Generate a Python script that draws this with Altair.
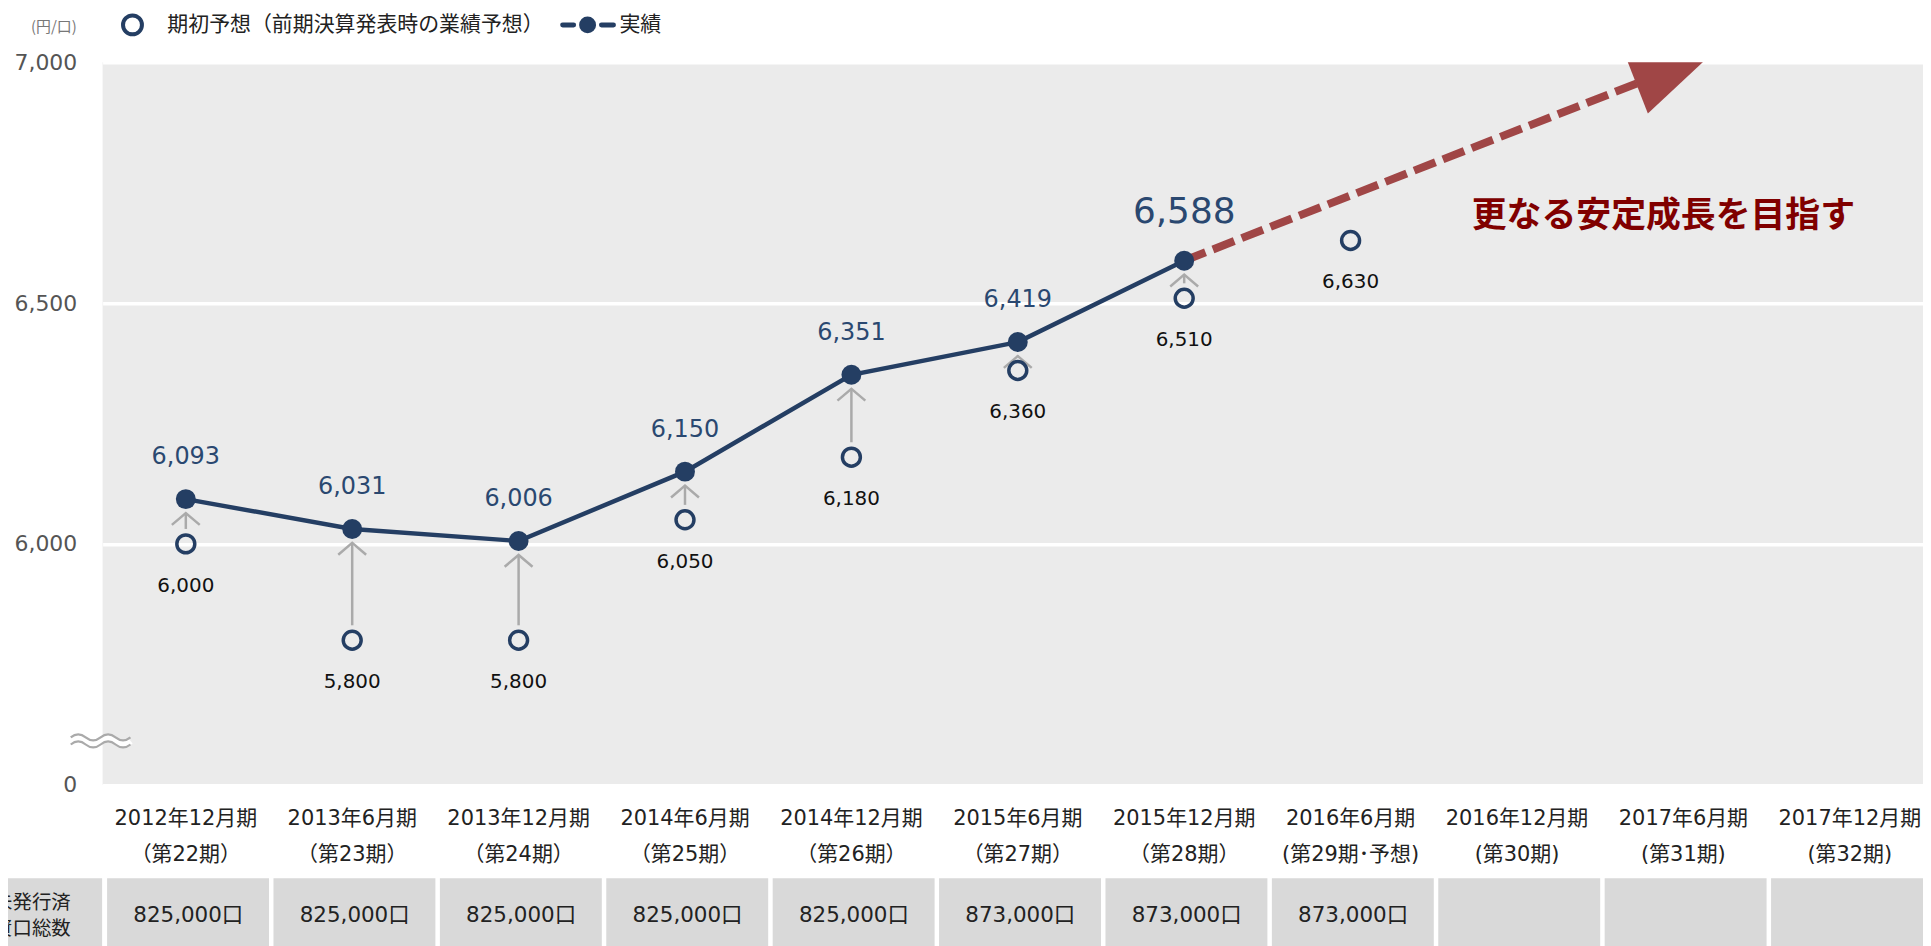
import altair as alt
import pandas as pd

# ---------------- data ----------------
periods = ["2012年12月期", "2013年6月期", "2013年12月期", "2014年6月期", "2014年12月期",
           "2015年6月期", "2015年12月期", "2016年6月期", "2016年12月期", "2017年6月期",
           "2017年12月期"]
terms = ["（第22期）", "（第23期）", "（第24期）", "（第25期）", "（第26期）", "（第27期）",
         "（第28期）", "(第29期･予想)", "(第30期)", "(第31期)", "(第32期)"]
actual = [6093, 6031, 6006, 6150, 6351, 6419, 6588]
forecast = [6000, 5800, 5800, 6050, 6180, 6360, 6510, 6630]
units = ["825,000口", "825,000口", "825,000口", "825,000口", "825,000口",
         "873,000口", "873,000口", "873,000口", "", "", ""]
y_ticks = [5500, 6000, 6500, 7000]          # 5500 is shown as "0" (broken axis)
legend_forecast = "期初予想（前期決算発表時の業績予想）"
legend_actual = "実績"
unit_label = "(円/口)"
row_label = ["未発行済", "投資口総数"]
note_text = "更なる安定成長を目指す"
# growth arrow (category index, value)
arrow_from = (6, 6588)
arrow_to = (8.72, 6956)
arrow_head = (8.94, 6985)
note_pos = (8.88, 6681)

# ---------------- styles ----------------
NAVY = "#243e63"
NAVY_TXT = "#2a4870"
RED = "#a04646"
MAROON = "#800000"
GRAY_ARROW = "#aaaaaa"
CELL = "#d9d9d9"
NUM_FONT = "DejaVu Sans, Noto Sans CJK JP"
JP_FONT = "Noto Sans CJK JP"
W, H = 1828, 725.5

n = len(periods)
cols = pd.DataFrame({"idx": list(range(n)), "period": periods, "term": terms, "units": units})
cols["lo"] = cols["idx"] - 0.5
cols["hi"] = cols["idx"] + 0.5

act = pd.DataFrame({"idx": list(range(len(actual))), "value": actual,
                    "label": [f"{v:,}" for v in actual]})
act["last"] = act["idx"] == act["idx"].max()
fc = pd.DataFrame({"idx": list(range(len(forecast))), "value": forecast,
                   "label": [f"{v:,}" for v in forecast]})
arr = pd.DataFrame({"idx": list(range(len(actual))), "fc": forecast[:len(actual)], "act": actual})
growth = pd.DataFrame({"x": [arrow_from[0]], "y": [arrow_from[1]],
                       "x2": [arrow_to[0]], "y2": [arrow_to[1]]})
head = pd.DataFrame({"x": [arrow_head[0]], "y": [arrow_head[1]]})
note = pd.DataFrame({"x": [note_pos[0]], "y": [note_pos[1]], "t": [note_text]})
one = pd.DataFrame({"a": [0]})

x_scale = alt.Scale(domain=[-0.5, 10.44], nice=False, zero=False)
y_scale = alt.Scale(domain=[5500, 7000], nice=False, zero=False)
y_axis = alt.Axis(values=y_ticks,
                  labelExpr="datum.value == 5500 ? '0' : format(datum.value, ',')",
                  labelFont=NUM_FONT, labelFontSize=22, labelColor="#555555",
                  labelPadding=26, ticks=False, domain=False, grid=True,
                  gridColor="#ffffff", gridWidth=3.5, labelFlush=False,
                  labelOverlap=False, title=None)


def X(f):
    return alt.X(f, type="quantitative", scale=x_scale, axis=None)


def Y(f):
    return alt.Y(f, type="quantitative", scale=y_scale, axis=y_axis)


# gray upward arrows (forecast -> actual)
arrow_lines = alt.Chart(arr).mark_rule(color=GRAY_ARROW, strokeWidth=2.5, yOffset=-15, y2Offset=14).encode(
    x=X("idx"), y=Y("fc"), y2="act")
arrow_heads = alt.Chart(arr).mark_point(shape="M-1,0.85L0,0L1,0.85", filled=False, size=784,
                                        color=GRAY_ARROW, strokeWidth=2.5, opacity=1, yOffset=14).encode(
    x=X("idx"), y=Y("act"))

# growth arrow
growth_line = alt.Chart(growth).mark_rule(color=RED, strokeWidth=8, strokeDash=[23, 8], strokeCap="butt").encode(
    x=X("x"), y=Y("y"), x2="x2", y2="y2")
growth_head = alt.Chart(head).mark_point(shape="M1,0L-1,-0.8L-1,0.8Z", filled=True, size=6400,
                                         angle=338.7, color=RED, opacity=1, clip=True).encode(
    x=X("x"), y=Y("y"))
note_mark = alt.Chart(note).mark_text(font=JP_FONT, fontSize=35, fontWeight="bold", color=MAROON,
                                      align="center", baseline="middle").encode(
    x=X("x"), y=Y("y"), text="t")

# actual line + points
line = alt.Chart(act).mark_line(color=NAVY, strokeWidth=4.5).encode(x=X("idx"), y=Y("value"))
dots = alt.Chart(act).mark_point(filled=True, shape="circle", size=400, color=NAVY, opacity=1).encode(
    x=X("idx"), y=Y("value"))
act_labels = alt.Chart(act).transform_filter("!datum.last").mark_text(
    font=NUM_FONT, fontSize=24, color=NAVY_TXT, align="center", baseline="alphabetic", dy=-35).encode(
    x=X("idx"), y=Y("value"), text="label")
act_label_big = alt.Chart(act).transform_filter("datum.last").mark_text(
    font=NUM_FONT, fontSize=36, color=NAVY_TXT, align="center", baseline="alphabetic", dy=-38).encode(
    x=X("idx"), y=Y("value"), text="label")

# forecast circles + labels
circles = alt.Chart(fc).mark_point(filled=False, shape="circle", size=324, color=NAVY,
                                   strokeWidth=3.5, opacity=1).encode(x=X("idx"), y=Y("value"))
fc_labels = alt.Chart(fc).mark_text(font=NUM_FONT, fontSize=20, color="#111111", align="center",
                                    baseline="alphabetic", dy=48).encode(
    x=X("idx"), y=Y("value"), text="label")

# category labels below the plot
cat1 = alt.Chart(cols).mark_text(font=NUM_FONT, fontSize=21, color="#222222", align="center",
                                 baseline="middle").encode(x=X("idx"), y=alt.value(759.5), text="period")
cat2 = alt.Chart(cols).mark_text(font=NUM_FONT, fontSize=21, color="#222222", align="center",
                                 baseline="middle").encode(x=X("idx"), y=alt.value(796), text="term")

# table row
cells = alt.Chart(cols).mark_rect(color=CELL, xOffset=4.5).encode(
    x=X("lo"), x2="hi", y=alt.value(819.5), y2=alt.value(910))
cell_text = alt.Chart(cols).mark_text(font=NUM_FONT, fontSize=21.5, color="#222222", align="center",
                                      baseline="middle", dx=2.5).encode(
    x=X("idx"), y=alt.value(857.5), text="units")
row_cell = alt.Chart(one).mark_rect(color=CELL).encode(
    x=alt.value(-200), x2=alt.value(-0.5), y=alt.value(819.5), y2=alt.value(910))
row_t1 = alt.Chart(one).mark_text(font=JP_FONT, fontSize=19.5, color="#222222", align="right",
                                  baseline="middle", text=row_label[0]).encode(
    x=alt.value(-32), y=alt.value(844.5))
row_t2 = alt.Chart(one).mark_text(font=JP_FONT, fontSize=19.5, color="#222222", align="right",
                                  baseline="middle", text=row_label[1]).encode(
    x=alt.value(-32), y=alt.value(870.5))

# axis break mark
brk_white = alt.Chart(one).mark_point(
    shape="M-1,0Q-0.75,-0.2,-0.5,0T0,0T0.5,0T1,0", filled=False, size=3600,
    color="#ffffff", strokeWidth=7, opacity=1).encode(x=alt.value(-2), y=alt.value(681.5))
brk = alt.Chart(one).mark_point(
    shape="M-1,-0.12Q-0.75,-0.32,-0.5,-0.12T0,-0.12T0.5,-0.12T1,-0.12"
          "M-1,0.12Q-0.75,-0.08,-0.5,0.12T0,0.12T0.5,0.12T1,0.12",
    filled=False, size=3600, color="#aaaaaa", strokeWidth=2.2, opacity=1).encode(
    x=alt.value(-2), y=alt.value(681.5))

# legend and unit
unit_mark = alt.Chart(one).mark_text(font=JP_FONT, fontSize=15, color="#777777", align="right",
                                     baseline="middle", text=unit_label).encode(
    x=alt.value(-26), y=alt.value(-35.5))
lg_circle = alt.Chart(one).mark_point(filled=False, shape="circle", size=361, color=NAVY,
                                      strokeWidth=4, opacity=1).encode(x=alt.value(30), y=alt.value(-37.5))
lg_text1 = alt.Chart(one).mark_text(font=JP_FONT, fontSize=21, color="#222222", align="left",
                                    baseline="middle", text=legend_forecast).encode(
    x=alt.value(65), y=alt.value(-37))
lg_seg1 = alt.Chart(one).mark_rule(color=NAVY, strokeWidth=5, strokeCap="round").encode(
    x=alt.value(462), x2=alt.value(473), y=alt.value(-37.5))
lg_seg2 = alt.Chart(one).mark_rule(color=NAVY, strokeWidth=5, strokeCap="round").encode(
    x=alt.value(501), x2=alt.value(513), y=alt.value(-37.5))
lg_dot = alt.Chart(one).mark_point(filled=True, shape="circle", size=289, color=NAVY, opacity=1).encode(
    x=alt.value(487), y=alt.value(-37.5))
lg_text2 = alt.Chart(one).mark_text(font=JP_FONT, fontSize=21, color="#222222", align="left",
                                    baseline="middle", text=legend_actual).encode(
    x=alt.value(519), y=alt.value(-37))

chart = alt.layer(
    arrow_lines, arrow_heads, growth_line, growth_head, line, dots, circles,
    act_labels, act_label_big, fc_labels, note_mark,
    cat1, cat2, cells, cell_text, row_cell, row_t1, row_t2,
    brk_white, brk, unit_mark, lg_circle, lg_text1, lg_seg1, lg_seg2, lg_dot, lg_text2,
).properties(
    width=W, height=H,
    autosize=alt.AutoSizeParams(type="none"),
    padding={"left": 95, "top": 52.5, "right": 0, "bottom": 160},
).configure_view(fill="#ebebeb", strokeWidth=0)

chart.save("out.html", embed_options={"renderer": "svg", "actions": False})
